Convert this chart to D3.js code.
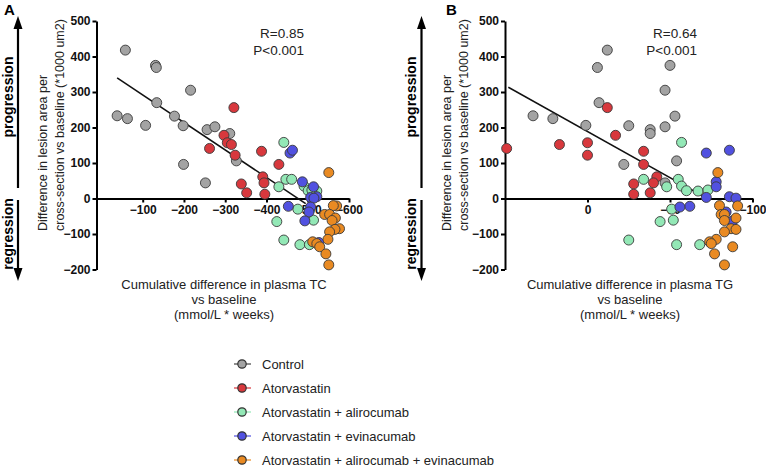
<!DOCTYPE html>
<html>
<head>
<meta charset="utf-8">
<script src="https://cdn.jsdelivr.net/npm/d3@7"></script>
<style>
  html, body { margin: 0; padding: 0; background: #fff; }
  svg { display: block; font-family: "Liberation Sans", Arial, sans-serif; }
</style>
</head>
<body>
<svg id="chart" width="766" height="472"></svg>
<script>
// ---------------- DATA ----------------
const groupNames = ["Control", "Atorvastatin", "Atorvastatin + alirocumab", "Atorvastatin + evinacumab", "Atorvastatin + alirocumab + evinacumab"];
const groupColors = ["#a3a3a3", "#d8383d", "#93e8b6", "#5151e0", "#e98a22"];

// cumulative difference in plasma TC (mmol/L * weeks)
const controlTC = [-38, -58, -63, -107, -131, -133, -134, -177, -198, -199, -216, -252, -256, -275, -311, -327];
const atorTC    = [-262, -297, -305, -315, -321, -324, -339, -352, -388, -391, -394, -396, -430];
const aliroTC   = [-442, -447, -461, -430, -491, -501, -522, -510, -476, -425, -514, -442, -481, -504];
const evinaTC   = [-457, -463, -487, -514, -507, -522, -515, -453, -507, -503, -493, -527];
const comboTC   = [-551, -570, -562, -541, -553, -567, -559, -577, -566, -553, -549, -512, -522, -529, -544, -551];

// cumulative difference in plasma TG (mmol/L * weeks)
const controlTG = [33, -12, 21, 1, -50, -6, -7, -53, -25, -22, -47, -47, -38, -47, -38, -54];
const atorTG    = [49, -17, 0, 17, -12, 0, -28, -38, -34, -42, -40, -28, -34];
const aliroTG   = [-57, -34, -55, -48, -57, -60, -67, -73, -51, -44, -52, -25, -54, -68];
const evinaTG   = [-72, -86, -78, -78, -72, -86, -90, -62, -56, -84, -88, -75];
const comboTG   = [-79, -91, -80, -81, -83, -90, -83, -87, -90, -83, -78, -74, -75, -88, -77, -83];

// difference in lesion area per cross-section vs baseline (*1000 um2)
const controlLesion = [233, 418, 225, 206, 375, 369, 270, 232, 205, 96, 305, 44, 194, 202, 183, 106];
const atorLesion    = [141, 178, 157, 152, 256, 122, 41, 16, 133, 61, 44, 12, 96];
const aliroLesion   = [158, 54, 54, 33, 35, 22, 21, 24, -30, -65, -61, -117, -130, -130];
const evinaLesion   = [128, 136, 47, 33, 3, 5, 1, -22, -24, -38, -63, -124];
const comboLesion   = [73, -21, -20, -45, -45, -55, -62, -85, -87, -94, -115, -122, -127, -136, -156, -187];

const tcTicks = [-100, -200, -300, -400, -500, -600];
const tgTicks = [0, -50, -100];
const lesionTicks = [-200, -100, 0, 100, 200, 300, 400, 500];

// linear regression fits (intercept, slope, x-range)
const fitTC = { intercept: 369.4, slope: 0.775, from: -38, to: -495 };
const fitTG = { intercept: 188.7, slope: 2.6, from: 48, to: -73 };
const statsTC = ["R=0.85", "P<0.001"];
const statsTG = ["R=0.64", "P<0.001"];

const groupsTC = [controlTC, atorTC, aliroTC, evinaTC, comboTC];
const groupsTG = [controlTG, atorTG, aliroTG, evinaTG, comboTG];
const groupsLesion = [controlLesion, atorLesion, aliroLesion, evinaLesion, comboLesion];

// ---------------- DRAW ----------------
const svg = d3.select("#chart");
const R = 5;

function panel(opts) {
  const g = svg.append("g");
  const x = d3.scaleLinear().domain(opts.xDomain).range(opts.xRange);
  const y = d3.scaleLinear().domain([-200, 500]).range([269.5, 21]);

  // panel letter
  g.append("text").attr("x", opts.letterX).attr("y", 15)
    .attr("font-weight", "bold").attr("font-size", 15).text(opts.letter);

  // progression / regression arrows
  const ax = opts.arrowX;
  const arrowG = g.append("g");
  arrowG.append("line").attr("x1", ax).attr("x2", ax).attr("y1", 26).attr("y2", 188)
    .attr("stroke", "#000").attr("stroke-width", 2.2);
  arrowG.append("path").attr("d", `M${ax},16 L${ax - 4.5},29 L${ax + 4.5},29 Z`).attr("fill", "#000");
  arrowG.append("line").attr("x1", ax).attr("x2", ax).attr("y1", 200).attr("y2", 270)
    .attr("stroke", "#000").attr("stroke-width", 2.2);
  arrowG.append("path").attr("d", `M${ax},281 L${ax - 4.5},268 L${ax + 4.5},268 Z`).attr("fill", "#000");
  arrowG.append("text").attr("transform", `translate(${ax - 5.5},97) rotate(-90)`)
    .attr("text-anchor", "middle").attr("font-weight", "bold").attr("font-size", 14).text("progression");
  arrowG.append("text").attr("transform", `translate(${ax - 5.5},234) rotate(-90)`)
    .attr("text-anchor", "middle").attr("font-weight", "bold").attr("font-size", 14).text("regression");

  // y label
  const yl = g.append("text").attr("font-size", 12.5).attr("fill", "#222");
  yl.append("tspan").attr("x", 0).attr("y", 0).text("Difference in lesion area per");
  yl.append("tspan").attr("x", 0).attr("y", 17).text("cross-section vs baseline (*1000 um2)");
  yl.attr("transform", `translate(${opts.yLabelX},231) rotate(-90)`);

  // axes
  const yAxis = g.append("g").attr("transform", `translate(${opts.xRange[0]},0)`)
    .call(d3.axisLeft(y).tickValues(lesionTicks).tickSize(4).tickSizeOuter(0).tickPadding(2));
  const xAxis = g.append("g").attr("transform", `translate(0,${y(0)})`)
    .call(d3.axisBottom(x).tickValues(opts.xTicks).tickSize(4).tickSizeOuter(0).tickPadding(3));
  [yAxis, xAxis].forEach(a => {
    a.select(".domain").attr("stroke-width", 2);
    a.selectAll(".tick line").attr("stroke-width", 2);
    a.selectAll(".tick text").attr("font-size", 12).attr("font-weight", "bold")
      .attr("font-family", "Liberation Sans, Arial, sans-serif").attr("fill", "#111");
  });

  // x label
  const xl = g.append("text").attr("text-anchor", "middle").attr("font-size", 13).attr("fill", "#222");
  opts.xLabel.forEach((t, i) => xl.append("tspan").attr("x", opts.xLabelX).attr("y", 289 + i * 15).text(t));

  // stats
  opts.stats.forEach((t, i) => g.append("text").attr("x", opts.statsX).attr("y", 38 + i * 17)
    .attr("text-anchor", "end").attr("font-size", 13.5).attr("fill", "#222").text(t));

  // regression line
  const f = opts.fit;
  g.append("line")
    .attr("x1", x(f.from)).attr("y1", y(f.intercept + f.slope * f.from))
    .attr("x2", x(f.to)).attr("y2", y(f.intercept + f.slope * f.to))
    .attr("stroke", "#111").attr("stroke-width", 1.6);

  // points
  opts.xs.forEach((xs, gi) => {
    const pts = xs.map((v, i) => [v, groupsLesion[gi][i]]);
    g.append("g").selectAll("circle").data(pts).join("circle")
      .attr("cx", d => x(d[0])).attr("cy", d => y(d[1])).attr("r", R)
      .attr("fill", groupColors[gi]).attr("stroke", "#3a3a3a").attr("stroke-width", 0.9);
  });
}

panel({
  letter: "A", letterX: 4, arrowX: 18, yLabelX: 47,
  xDomain: [12, -600], xRange: [96.5, 349], xTicks: tcTicks,
  xLabel: ["Cumulative difference in plasma TC", "vs baseline", "(mmol/L * weeks)"], xLabelX: 224,
  stats: statsTC, statsX: 304, fit: fitTC, xs: groupsTC
});
panel({
  letter: "B", letterX: 446, arrowX: 421.5, yLabelX: 451,
  xDomain: [50, -100], xRange: [505, 752.5], xTicks: tgTicks,
  xLabel: ["Cumulative difference in plasma TG", "vs baseline", "(mmol/L * weeks)"], xLabelX: 630,
  stats: statsTG, statsX: 697, fit: fitTG, xs: groupsTG
});

// legend
const lg = svg.append("g");
const legendY = d3.scalePoint().domain(groupNames).range([364, 460]);
groupNames.forEach((name, i) => {
  const yy = legendY(name);
  lg.append("line").attr("x1", 234).attr("x2", 251).attr("y1", yy).attr("y2", yy)
    .attr("stroke", i === 0 ? "#444" : groupColors[i]).attr("stroke-width", 1.2);
  lg.append("circle").attr("cx", 242).attr("cy", yy).attr("r", 4.2)
    .attr("fill", groupColors[i]).attr("stroke", "#333").attr("stroke-width", 1.2);
  lg.append("text").attr("x", 262).attr("y", yy + 4.5).attr("font-size", 13).attr("fill", "#222").text(name);
});
</script>
</body>
</html>
